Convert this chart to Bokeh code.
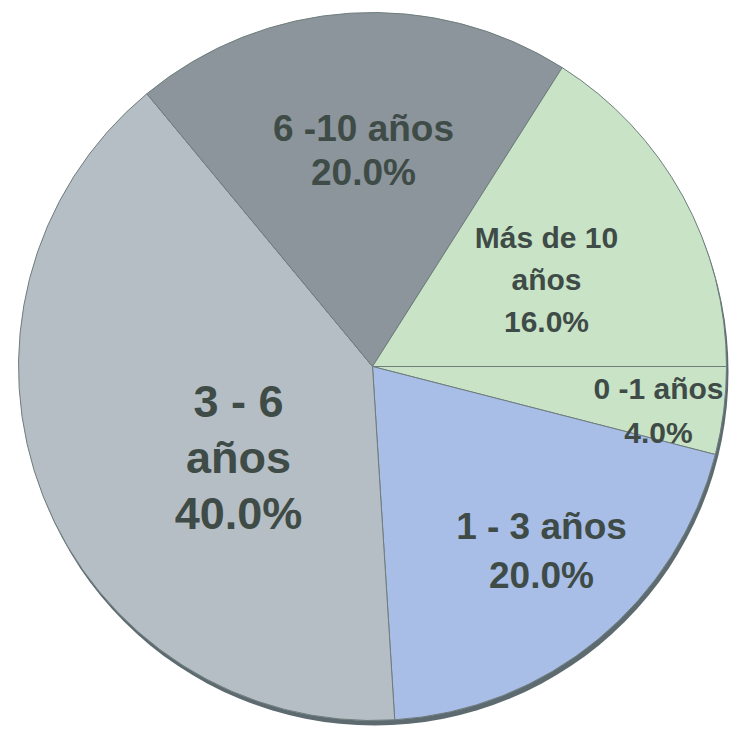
from bokeh.plotting import figure
from bokeh.models import Range1d, ColumnDataSource
from bokeh.core.properties import value
from bokeh.embed import file_html
from bokeh.resources import INLINE
import math

# ---- data ----
categories = ["0 -1 años", "1 - 3 años", "3 - 6 años", "6 -10 años", "Más de 10 años"]
shares = [4.0, 20.0, 40.0, 20.0, 16.0]
colors = ["#c8e3c6", "#a8bee6", "#b5bec4", "#8b959b", "#c8e3c6"]

# label lines per slice (text) and layout (pixel offsets from centre, sizes)
label_lines = [
    ["0 -1 años", "4.0%"],
    ["1 - 3 años", "20.0%"],
    ["3 - 6", "años", "40.0%"],
    ["6 -10 años", "20.0%"],
    ["Más de 10", "años", "16.0%"],
]
label_xy = [(286, -44), (169, -184), (-134, -91), (-9, 216), (174, 87)]
label_size = [30, 37, 45, 37, 30]
label_gap = [44, 49, 56, 44, 42]

CX, CY = 0.0, 0.0
R = 354

W, H = 730, 733
p = figure(width=W, height=H, output_backend="svg", toolbar_location=None,
           x_range=Range1d(-372, -372 + W), y_range=Range1d(366 - H, 366),
           min_border=0, outline_line_color=None)
p.axis.visible = False
p.grid.visible = False
p.background_fill_color = "white"
p.border_fill_color = "white"

# shadow rim (3D look)
p.circle(x=[CX + 2], y=[CY - 5], radius=R, fill_color="#5d6b70", line_color=None)

# wedges: clockwise from 3 o'clock
total = sum(shares)
starts, ends = [], []
a = 0.0
for s in shares:
    sweep = 2 * math.pi * s / total
    starts.append(a - sweep)
    ends.append(a)
    a -= sweep
src = ColumnDataSource(dict(start=starts, end=ends, color=colors, cat=categories))
p.wedge(x=CX, y=CY, radius=R, start_angle="start", end_angle="end",
        fill_color="color", line_color="#6f7d7d", line_width=1, source=src)

# labels
for lines, (lx, ly), fs, gap in zip(label_lines, label_xy, label_size, label_gap):
    n = len(lines)
    xs, ys = [], []
    for i, t in enumerate(lines):
        xs.append(lx)
        ys.append(ly + (n - 1) / 2 * gap - i * gap)
    p.text(x=xs, y=ys, text=lines, text_align="center", text_baseline="middle",
           text_font=value("Liberation Sans"), text_font_style="bold",
           text_font_size=f"{fs}px", text_color="#3f4b46")

open("out.html", "w").write(file_html(p, INLINE))
